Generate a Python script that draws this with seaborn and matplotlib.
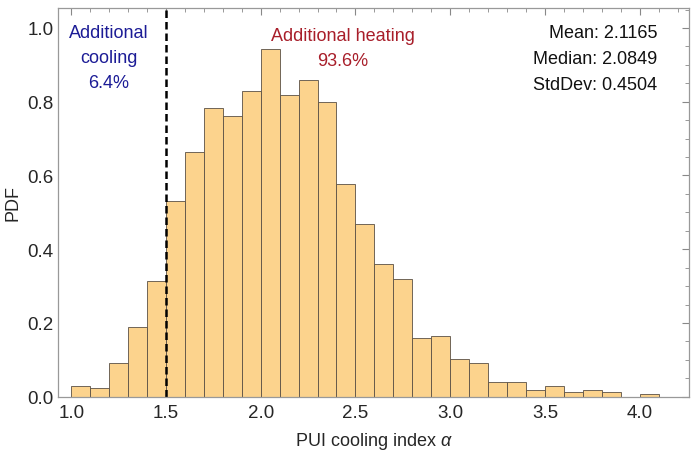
import numpy as np
import pandas as pd
import matplotlib
matplotlib.use("Agg")
import matplotlib.pyplot as plt
import seaborn as sns
from matplotlib.ticker import MultipleLocator

# histogram of the PUI cooling index, bins of width 0.1 from 1.0 to 4.1
bin_left = [1.0, 1.1, 1.2, 1.3, 1.4, 1.5, 1.6, 1.7, 1.8, 1.9,
            2.0, 2.1, 2.2, 2.3, 2.4, 2.5, 2.6, 2.7, 2.8, 2.9,
            3.0, 3.1, 3.2, 3.3, 3.4, 3.5, 3.6, 3.7, 3.8, 3.9, 4.0]
pdf_values = [0.028, 0.024, 0.092, 0.189, 0.314,
              0.531, 0.663, 0.784, 0.760, 0.829,
              0.943, 0.817, 0.858, 0.800, 0.578,
              0.469, 0.361, 0.320, 0.160, 0.166,
              0.102, 0.092, 0.039, 0.039, 0.018,
              0.028, 0.012, 0.018, 0.012, 0.0,
              0.0065]
bin_width = 0.1

threshold = 1.5
cooling_lines = ["Additional", "cooling", "6.4%"]
heating_lines = ["Additional heating", "93.6%"]
stats_lines = ["Mean: 2.1165", "Median: 2.0849", "StdDev: 0.4504"]

df = pd.DataFrame({"alpha": np.array(bin_left) + bin_width / 2,
                   "pdf": pdf_values})

sns.set_style("white")
plt.rcParams["font.family"] = ["Liberation Sans", "DejaVu Sans"]
plt.rcParams["mathtext.fontset"] = "custom"
plt.rcParams["mathtext.it"] = "Liberation Sans:italic"

fig, ax = plt.subplots(figsize=(6.98, 4.52), dpi=100)
fig.subplots_adjust(left=0.083, right=0.987, top=0.980, bottom=0.120)

sns.histplot(data=df, x="alpha", weights="pdf", binwidth=bin_width,
             binrange=(bin_left[0], bin_left[-1] + bin_width), ax=ax,
             color="#FCD38D", alpha=1.0, edgecolor="#5a5045", linewidth=0.6)

ax.axvline(threshold, color="black", linestyle=(0, (3, 1.6)), linewidth=1.8)

ax.set_xlim(0.93, 4.26)
ax.set_ylim(0, 1.054)
ax.xaxis.set_major_locator(MultipleLocator(0.5))
ax.xaxis.set_minor_locator(MultipleLocator(0.1))
ax.yaxis.set_major_locator(MultipleLocator(0.2))
ax.yaxis.set_minor_locator(MultipleLocator(0.05))
ax.tick_params(which="both", direction="in", top=True, right=True,
               color="#888888", labelsize=13.5)
ax.tick_params(axis="x", pad=5)
ax.tick_params(axis="y", pad=3)
ax.tick_params(which="major", length=5, width=0.8)
ax.tick_params(which="minor", length=3, width=0.6)
for s in ax.spines.values():
    s.set_color("#999999")
    s.set_linewidth(0.9)

ax.set_xlabel(r"PUI cooling index $\it{\alpha}$", fontsize=13, labelpad=6.5)
ax.set_ylabel("PDF", fontsize=13, labelpad=4)

step = 0.068
for i, line in enumerate(cooling_lines):
    ax.text(1.198, 0.975 - i * step, line, color="#1c1c96", fontsize=13,
            ha="center", va="baseline")
for i, line in enumerate(heating_lines):
    ax.text(2.434, 0.968 - i * step, line, color="#a81e2a", fontsize=13,
            ha="center", va="baseline")
for i, line in enumerate(stats_lines):
    ax.text(4.094, 0.975 - i * 0.0705, line, color="#111111", fontsize=13,
            ha="right", va="baseline")

fig.savefig("out.png", dpi=100)
